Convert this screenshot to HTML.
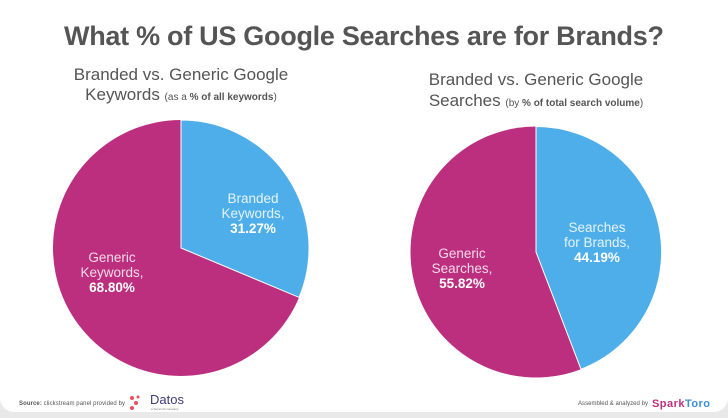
<!DOCTYPE html>
<html><head><meta charset="utf-8"><style>
body{margin:0;width:728px;height:418px;background:#e9e9e9;font-family:"Liberation Sans",sans-serif;overflow:hidden}
.card{position:absolute;left:0;top:0;width:728px;height:412px;background:#fff;border-radius:0 0 14px 14px}
</style></head><body><div class="card"></div>
<svg width="728" height="418" style="position:absolute;left:0;top:0" font-family="Liberation Sans, sans-serif">
<text x="364" y="45" text-anchor="middle" font-size="27" font-weight="bold" fill="#555" textLength="600">What % of US Google Searches are for Brands?</text>
<text x="181" y="80" text-anchor="middle" font-size="17" fill="#555">Branded vs. Generic Google</text>
<text x="181" y="100" text-anchor="middle" font-size="17" fill="#555">Keywords <tspan font-size="10">(as a <tspan font-weight="bold">% of all keywords</tspan>)</tspan></text>
<text x="536" y="85" text-anchor="middle" font-size="17" fill="#555">Branded vs. Generic Google</text>
<text x="536" y="106" text-anchor="middle" font-size="17" fill="#555">Searches <tspan font-size="10">(by <tspan font-weight="bold">% of total search volume</tspan>)</tspan></text>
<circle cx="181" cy="248" r="128" fill="#bc2f7f"/>
<path d="M181,248 L181,120 A128,128 0 0 1 299.1,297.4 Z" fill="#4eaeea" stroke="#fff" stroke-width="1"/>
<circle cx="536" cy="252" r="125.5" fill="#bc2f7f"/>
<path d="M536,252 L536,126.5 A125.5,125.5 0 0 1 581,369.2 Z" fill="#4eaeea" stroke="#fff" stroke-width="1"/>
<g font-size="13.5" fill="#e6f3fc" text-anchor="middle">
<text x="253" y="203">Branded</text><text x="253" y="218">Keywords,</text>
<text x="253" y="233" font-weight="bold" fill="#fff">31.27%</text>
<text x="597" y="232">Searches</text><text x="597" y="247">for Brands,</text>
<text x="597" y="262" font-weight="bold" fill="#fff">44.19%</text>
</g>
<g font-size="13.5" fill="#f5dbe9" text-anchor="middle">
<text x="112" y="262">Generic</text><text x="112" y="277">Keywords,</text>
<text x="112" y="292" font-weight="bold" fill="#fff">68.80%</text>
<text x="462" y="258">Generic</text><text x="462" y="273">Searches,</text>
<text x="462" y="288" font-weight="bold" fill="#fff">55.82%</text>
</g>
<text x="19" y="405" font-size="6" fill="#555" textLength="106"><tspan font-weight="bold">Source:</tspan> clickstream panel provided by</text>
<circle cx="132" cy="398" r="2" fill="#e8505b"/><circle cx="136" cy="403" r="2" fill="#e8505b"/><circle cx="132" cy="408" r="2" fill="#e8505b"/><circle cx="138" cy="397" r="1.5" fill="#e8505b"/>
<text x="150" y="404" font-size="13" fill="#3c3c7a">Datos</text>
<text x="151" y="410" font-size="3" fill="#777">a Semrush company</text>
<text x="578" y="405" font-size="6" fill="#555" textLength="70">Assembled &amp; analyzed by</text>
<text x="652" y="407" font-size="11" font-weight="bold" fill="#c0307f" textLength="58">Spark<tspan fill="#3d8fd6">Toro</tspan></text>
</svg></body></html>
